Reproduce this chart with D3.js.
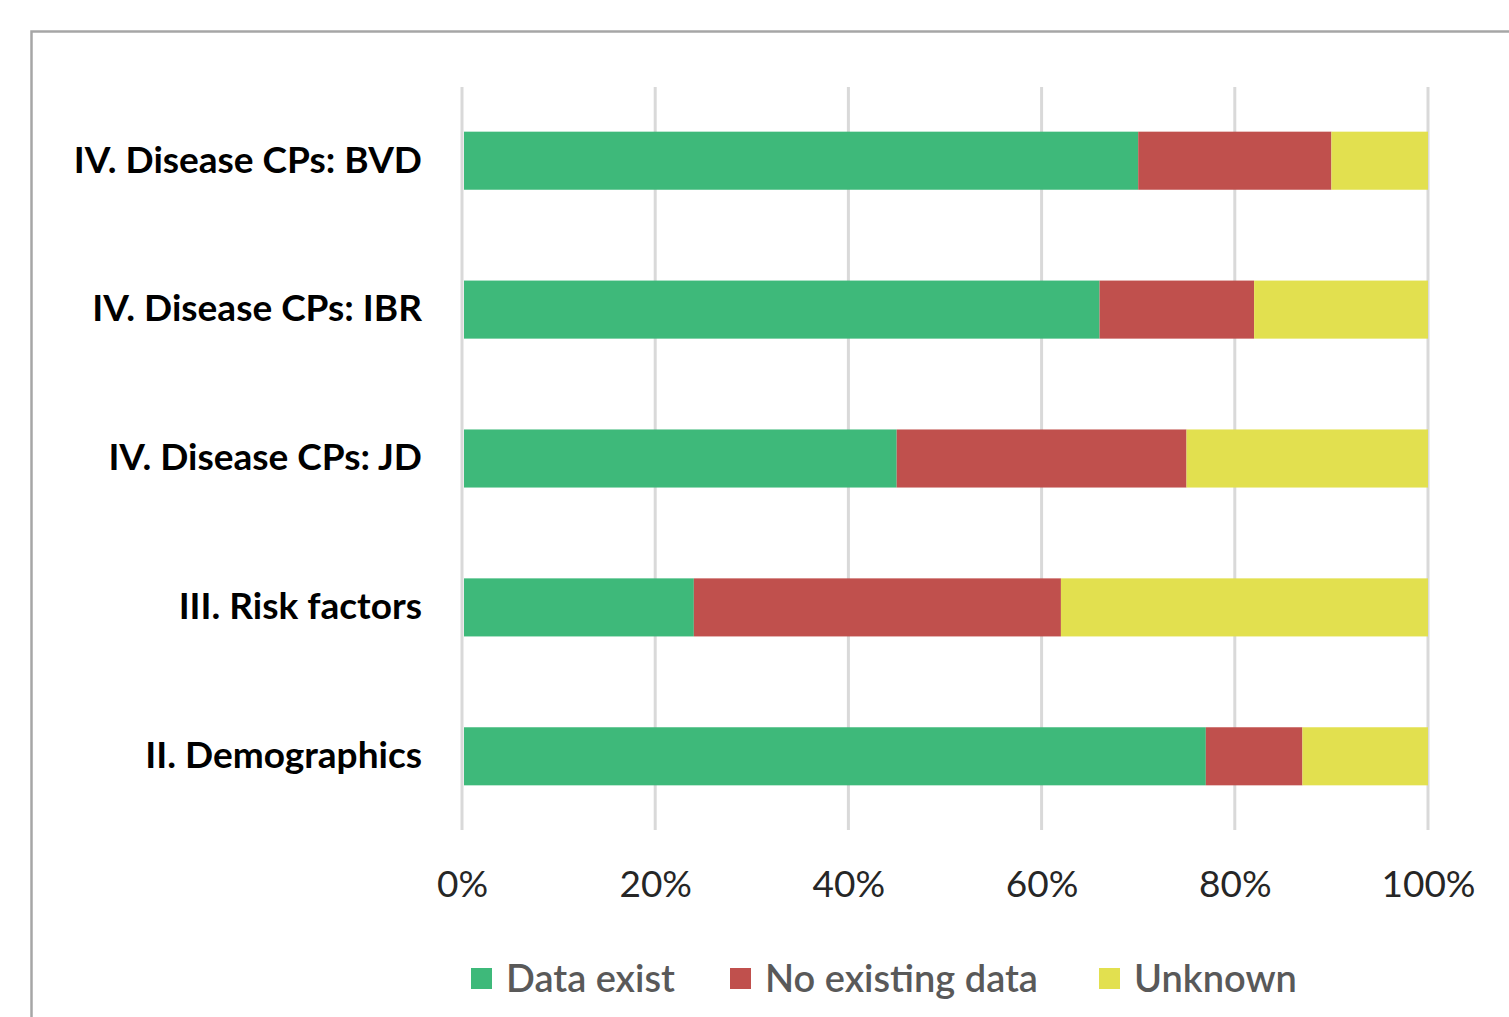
<!DOCTYPE html>
<html>
<head>
<meta charset="utf-8">
<script src="https://cdn.jsdelivr.net/npm/d3@7"></script>
<style>
  body { margin: 0; background: #fff; }
  svg { display: block; font-family: Lato, "Open Sans", sans-serif; }
</style>
</head>
<body>
<div id="chart"></div>
<script>
// categories, top to bottom
var categories = ["IV. Disease CPs: BVD", "IV. Disease CPs: IBR", "IV. Disease CPs: JD", "III. Risk factors", "II. Demographics"];
var seriesNames = ["Data exist", "No existing data", "Unknown"];
var dataExist = [0.70, 0.66, 0.45, 0.24, 0.77];
var noData    = [0.20, 0.16, 0.30, 0.38, 0.10];
var unknown   = [0.10, 0.18, 0.25, 0.38, 0.13];
var tickValues = [0, 0.2, 0.4, 0.6, 0.8, 1];
var colors = ["#3eb97a", "#c0504d", "#e2e04f"];

var W = 1509, H = 1017;
var margin = { top: 87, left: 462, right: 81, bottom: 187 };
var width = W - margin.left - margin.right,
    height = H - margin.top - margin.bottom;

var svg = d3.select("#chart").append("svg")
    .attr("width", W).attr("height", H);

// outer chart border
svg.append("rect")
    .attr("x", 31.5).attr("y", 31.5)
    .attr("width", W).attr("height", H)
    .attr("fill", "none").attr("stroke", "#a6a6a6").attr("stroke-width", 2.5);

var g = svg.append("g")
    .attr("transform", "translate(" + margin.left + "," + margin.top + ")");

var x = d3.scaleLinear().domain([0, 1]).range([0, width]);
var y = d3.scaleBand().domain(categories).range([0, height]).paddingInner(0.61).paddingOuter(0.3);

// gridlines
g.selectAll(".grid")
    .data(tickValues)
    .enter().append("line")
    .attr("x1", function(d) { return x(d); })
    .attr("x2", function(d) { return x(d); })
    .attr("y1", 0).attr("y2", height)
    .attr("stroke", "#d9d9d9").attr("stroke-width", 3);

// stack the series
var rows = categories.map(function(c, i) {
  return { cat: c, "Data exist": dataExist[i], "No existing data": noData[i], "Unknown": unknown[i] };
});
var stacked = d3.stack().keys(seriesNames)(rows);

g.selectAll(".series")
    .data(stacked)
    .enter().append("g")
    .attr("fill", function(d, i) { return colors[i]; })
  .selectAll("rect")
    .data(function(d) { return d; })
    .enter().append("rect")
    .attr("x", function(d) { return x(d[0]) + (d[0] === 0 ? 2 : 0); })
    .attr("width", function(d) { return x(d[1]) - x(d[0]) - (d[0] === 0 ? 2 : 0); })
    .attr("y", function(d) { return y(d.data.cat); })
    .attr("height", y.bandwidth());

// category labels
var yAxis = g.append("g")
    .call(d3.axisLeft(y).tickSize(0).tickPadding(40));
yAxis.select(".domain").remove();
yAxis.selectAll("text")
    .attr("font-family", "Lato, sans-serif")
    .attr("font-size", 37).attr("font-weight", "bold")
    .attr("fill", "#000");

// x axis tick labels
var xAxis = g.append("g")
    .attr("transform", "translate(0," + height + ")")
    .call(d3.axisBottom(x).tickValues(tickValues).tickFormat(d3.format(".0%")).tickSize(0).tickPadding(41));
xAxis.select(".domain").remove();
xAxis.selectAll("text")
    .attr("font-family", "Lato, sans-serif")
    .attr("font-size", 37).attr("fill", "#262626");

// legend
var legendX = [471, 730, 1099];
var legend = svg.append("g");
var items = legend.selectAll(".item")
    .data(seriesNames)
    .enter().append("g")
    .attr("transform", function(d, i) { return "translate(" + legendX[i] + ",968)"; });
items.append("rect")
    .attr("width", 21).attr("height", 21)
    .attr("fill", function(d, i) { return colors[i]; });
items.append("text")
    .attr("x", 35).attr("y", 11)
    .attr("dy", "0.35em")
    .attr("font-size", 38).attr("font-weight", 600)
    .attr("fill", "#595959")
    .text(function(d) { return d; });
</script>
</body>
</html>
